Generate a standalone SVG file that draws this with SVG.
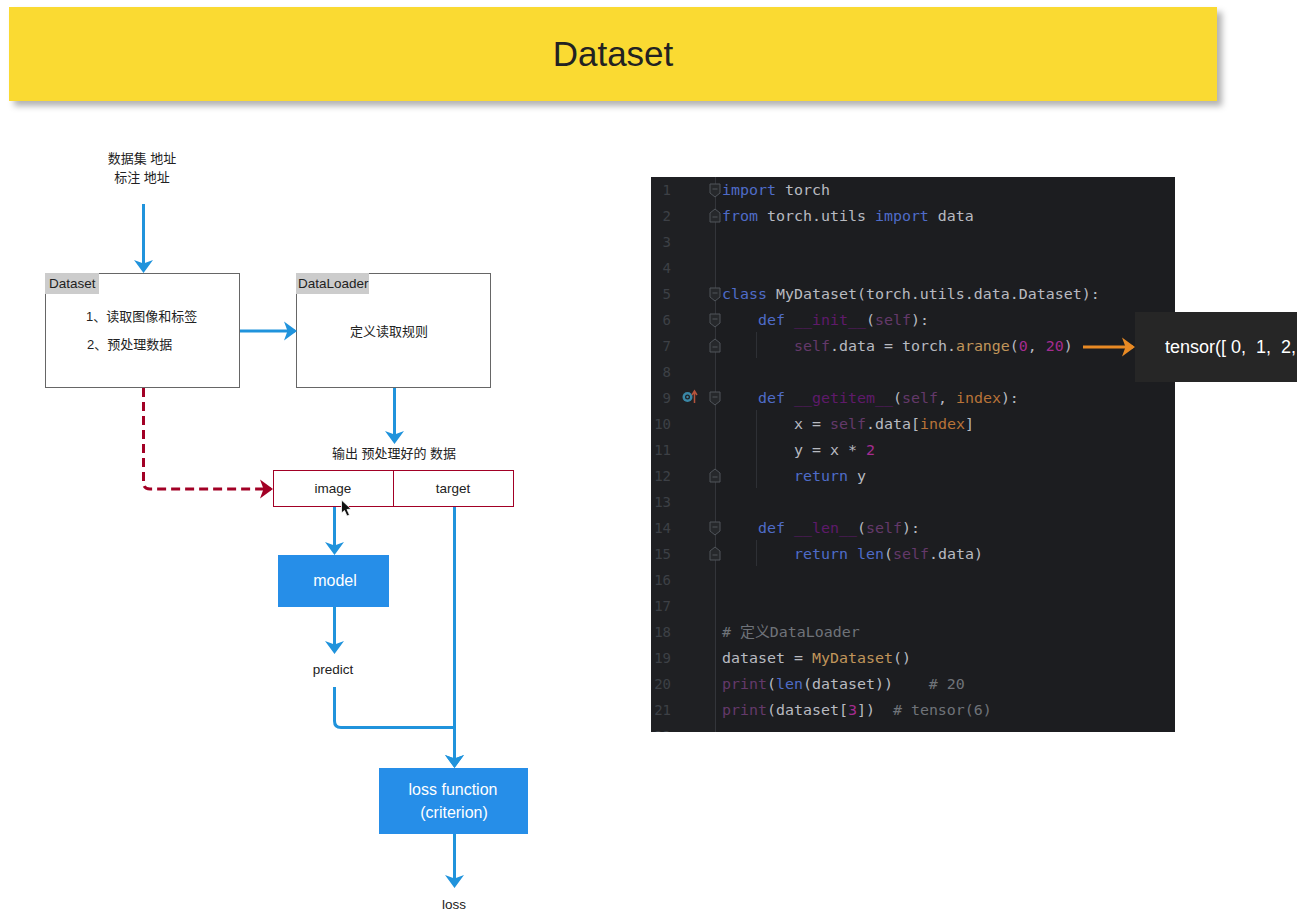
<svg xmlns="http://www.w3.org/2000/svg" width="1297" height="922" viewBox="0 0 1297 922">
<style>
text{font-family:"Liberation Sans","Noto Sans CJK SC",sans-serif;fill:#222;font-size:13px}
.c{text-anchor:middle}
.l{font-size:13.500px}
.box{fill:#fff;stroke:#666;stroke-width:1}
.tag{fill:#ccc}
.red{fill:#fff;stroke:#a20025;stroke-width:1}
.blue{fill:#268ee8}
.w{fill:#fff;font-size:16px;text-anchor:middle}
.flow{fill:none;stroke:#2093dc;stroke-width:3;stroke-linejoin:round}
.dash{fill:none;stroke:#a20025;stroke-width:3;stroke-dasharray:9 5}
.org{fill:none;stroke:#e98a24;stroke-width:3}
.code text{font-family:"DejaVu Sans Mono","Noto Sans CJK SC",monospace;font-size:14.95px;fill:#b8bac0;white-space:pre}
.code .ln{fill:#3d4046;font-size:14px;text-anchor:end}
.k{fill:#4f6cc8}.s{fill:#64396a}.m{fill:#5f1a6b}.f{fill:#c0955a}.n{fill:#a52c90}.p{fill:#b87338}.g{fill:#6f7379}.b{fill:#4f6cc8}
.fold{fill:#26282b;stroke:#50545a;stroke-width:1}
</style>
<defs>
<marker id="ab" markerUnits="userSpaceOnUse" markerWidth="20" markerHeight="20" refX="11" refY="10" orient="auto"><path d="M0 .5L13 10L0 19.500L3.500 10Z" fill="#2093dc"/></marker>
<marker id="ar" markerUnits="userSpaceOnUse" markerWidth="20" markerHeight="20" refX="11" refY="10" orient="auto"><path d="M0 .5L13 10L0 19.500L3.500 10Z" fill="#a20025"/></marker>
<marker id="ao" markerUnits="userSpaceOnUse" markerWidth="20" markerHeight="20" refX="11" refY="10" orient="auto"><path d="M0 .5L13 10L0 19.500L3.500 10Z" fill="#e98a24"/></marker>
<filter id="sh" x="-2%" y="-20%" width="104%" height="140%"><feDropShadow dx="5" dy="5" stdDeviation="3" flood-color="#000" flood-opacity=".3"/></filter>
<clipPath id="panel"><rect x="651" y="177" width="524" height="555"/></clipPath>
<g id="fo"><path class="fold" d="M-5 -6H5V3L0 7L-5 3Z"/><path class="fold" d="M-2.500 -1H2.500"/></g>
<g id="fc"><path class="fold" d="M-5 6H5V-3L0 -7L-5 -3Z"/><path class="fold" d="M-2.500 1H2.500"/></g>
</defs>
<rect width="1297" height="922" fill="#fff"/>
<g id="title"><rect x="9" y="7" width="1208" height="94" fill="#fada30" filter="url(#sh)"/><text x="613" y="66" class="c" style="font-size:35px">Dataset</text></g>

<g id="input-label"><text x="142" y="163" class="c">数据集 地址</text><text x="142" y="182" class="c">标注 地址</text></g>
<g id="dataset"><rect class="box" x="45.500" y="273.500" width="194" height="114"/><rect class="tag" x="45" y="273" width="54" height="21"/><text x="49" y="288" class="l">Dataset</text><text x="86" y="321">1、读取图像和标签</text><text x="87" y="349">2、预处理数据</text></g>
<g id="dataloader"><rect class="box" x="296.500" y="273.500" width="194" height="114"/><rect class="tag" x="296" y="273" width="73" height="21"/><text x="298" y="288" class="l">DataLoader</text><text x="389" y="336" class="c">定义读取规则</text></g>
<g id="output-label"><text x="394" y="458" class="c">输出 预处理好的 数据</text></g>
<g id="image"><rect class="red" x="273.500" y="470.500" width="120" height="36"/><text x="333" y="493" class="c l">image</text></g>
<g id="target"><rect class="red" x="393.500" y="470.500" width="120" height="36"/><text x="453" y="493" class="c l">target</text></g>
<g id="model"><rect class="blue" x="278" y="555" width="111" height="52"/><text x="335" y="586" class="w">model</text></g>
<g id="predict"><text x="333" y="674" class="c l">predict</text></g>
<g id="loss-function"><rect class="blue" x="379" y="768" width="149" height="66"/><text x="453" y="795" class="w">loss function</text><text x="454" y="818" class="w">(criterion)</text></g>
<g id="loss"><text x="454" y="909" class="c l">loss</text></g>

<g id="code">
<rect x="651" y="177" width="524" height="555" fill="#1c1d20"/>
<rect x="651" y="177" width="64" height="555" fill="#1f2023"/>
<path d="M715.500 177V732" stroke="#33353a"/>
<path d="M756.500 332V358M756.500 410V488M756.500 540V566" stroke="#2e3035"/>
<g class="code" clip-path="url(#panel)">
<text class="ln" x="671" y="195">1</text><text class="ln" x="671" y="221">2</text><text class="ln" x="671" y="247">3</text><text class="ln" x="671" y="273">4</text><text class="ln" x="671" y="299">5</text><text class="ln" x="671" y="325">6</text><text class="ln" x="671" y="351">7</text><text class="ln" x="671" y="377">8</text><text class="ln" x="671" y="403">9</text><text class="ln" x="671" y="429">10</text><text class="ln" x="671" y="455">11</text><text class="ln" x="671" y="481">12</text><text class="ln" x="671" y="507">13</text><text class="ln" x="671" y="533">14</text><text class="ln" x="671" y="559">15</text><text class="ln" x="671" y="585">16</text><text class="ln" x="671" y="611">17</text><text class="ln" x="671" y="637">18</text><text class="ln" x="671" y="663">19</text><text class="ln" x="671" y="689">20</text><text class="ln" x="671" y="715">21</text><text class="ln" x="671" y="741">22</text>
<text x="722" y="195"><tspan class="k">import</tspan> torch</text>
<text x="722" y="221"><tspan class="k">from</tspan> torch.utils <tspan class="k">import</tspan> data</text>
<text x="722" y="299"><tspan class="k">class</tspan> MyDataset(torch.utils.data.Dataset):</text>
<text x="758" y="325"><tspan class="k">def</tspan> <tspan class="m">__init__</tspan>(<tspan class="s">self</tspan>):</text>
<text x="794" y="351"><tspan class="s">self</tspan>.data = torch.<tspan class="f">arange</tspan>(<tspan class="n">0</tspan>, <tspan class="n">20</tspan>)</text>
<text x="758" y="403"><tspan class="k">def</tspan> <tspan class="m">__getitem__</tspan>(<tspan class="s">self</tspan>, <tspan class="p">index</tspan>):</text>
<text x="794" y="429">x = <tspan class="s">self</tspan>.data[<tspan class="p">index</tspan>]</text>
<text x="794" y="455">y = x * <tspan class="n">2</tspan></text>
<text x="794" y="481"><tspan class="k">return</tspan> y</text>
<text x="758" y="533"><tspan class="k">def</tspan> <tspan class="m">__len__</tspan>(<tspan class="s">self</tspan>):</text>
<text x="794" y="559"><tspan class="k">return</tspan> <tspan class="b">len</tspan>(<tspan class="s">self</tspan>.data)</text>
<text x="722" y="637"><tspan class="g"># 定义DataLoader</tspan></text>
<text x="722" y="663">dataset = <tspan class="f">MyDataset</tspan>()</text>
<text x="722" y="689"><tspan class="s">print</tspan>(<tspan class="b">len</tspan>(dataset))    <tspan class="g"># 20</tspan></text>
<text x="722" y="715"><tspan class="s">print</tspan>(dataset[<tspan class="n">3</tspan>])  <tspan class="g"># tensor(6)</tspan></text>
</g>
<use href="#fo" x="715" y="190"/><use href="#fc" x="715" y="216"/><use href="#fo" x="715" y="294"/><use href="#fo" x="715" y="320"/><use href="#fc" x="715" y="346"/><use href="#fo" x="715" y="398"/><use href="#fc" x="715" y="476"/><use href="#fo" x="715" y="528"/><use href="#fc" x="715" y="554"/>
<circle cx="687.500" cy="397" r="5" fill="#3a87a6"/><circle cx="687.500" cy="397" r="2.500" fill="#1f2023"/><circle cx="687.500" cy="397" r="1.200" fill="#3a87a6"/>
<path d="M694.500 403V392M692 395L694.500 391L697 395" fill="none" stroke="#b5533c" stroke-width="1.500"/>
</g>

<g id="tensor"><rect x="1135" y="312" width="162" height="70" fill="#262626"/><text x="1165" y="353" style="fill:#fff;font-size:18px;white-space:pre">tensor([ 0,  1,  2,</text></g>

<g id="connectors">
<path class="flow" d="M143.500 204V271" marker-end="url(#ab)"/>
<path class="flow" d="M240 331H295" marker-end="url(#ab)"/>
<path class="flow" d="M394.500 388V442" marker-end="url(#ab)"/>
<path class="dash" d="M143.500 388V483Q143.500 489 150 489H271" marker-end="url(#ar)"/>
<path class="flow" d="M334.500 507V553" marker-end="url(#ab)"/>
<path class="flow" d="M334.500 607V652" marker-end="url(#ab)"/>
<path class="flow" d="M454.500 507V766" marker-end="url(#ab)"/>
<path class="flow" d="M334.500 687V721Q334.500 727.500 341 727.500H454.500V766" marker-end="url(#ab)"/>
<path class="flow" d="M454.500 834V886" marker-end="url(#ab)"/>
<path class="org" d="M1083 347H1133" marker-end="url(#ao)"/>
</g>
<g id="cursor"><path d="M341.500 500V513L344.500 510.500L347 516L349.500 515L347 509.500L351 509Z" fill="#111" stroke="#fff" stroke-width=".8"/></g>
</svg>
